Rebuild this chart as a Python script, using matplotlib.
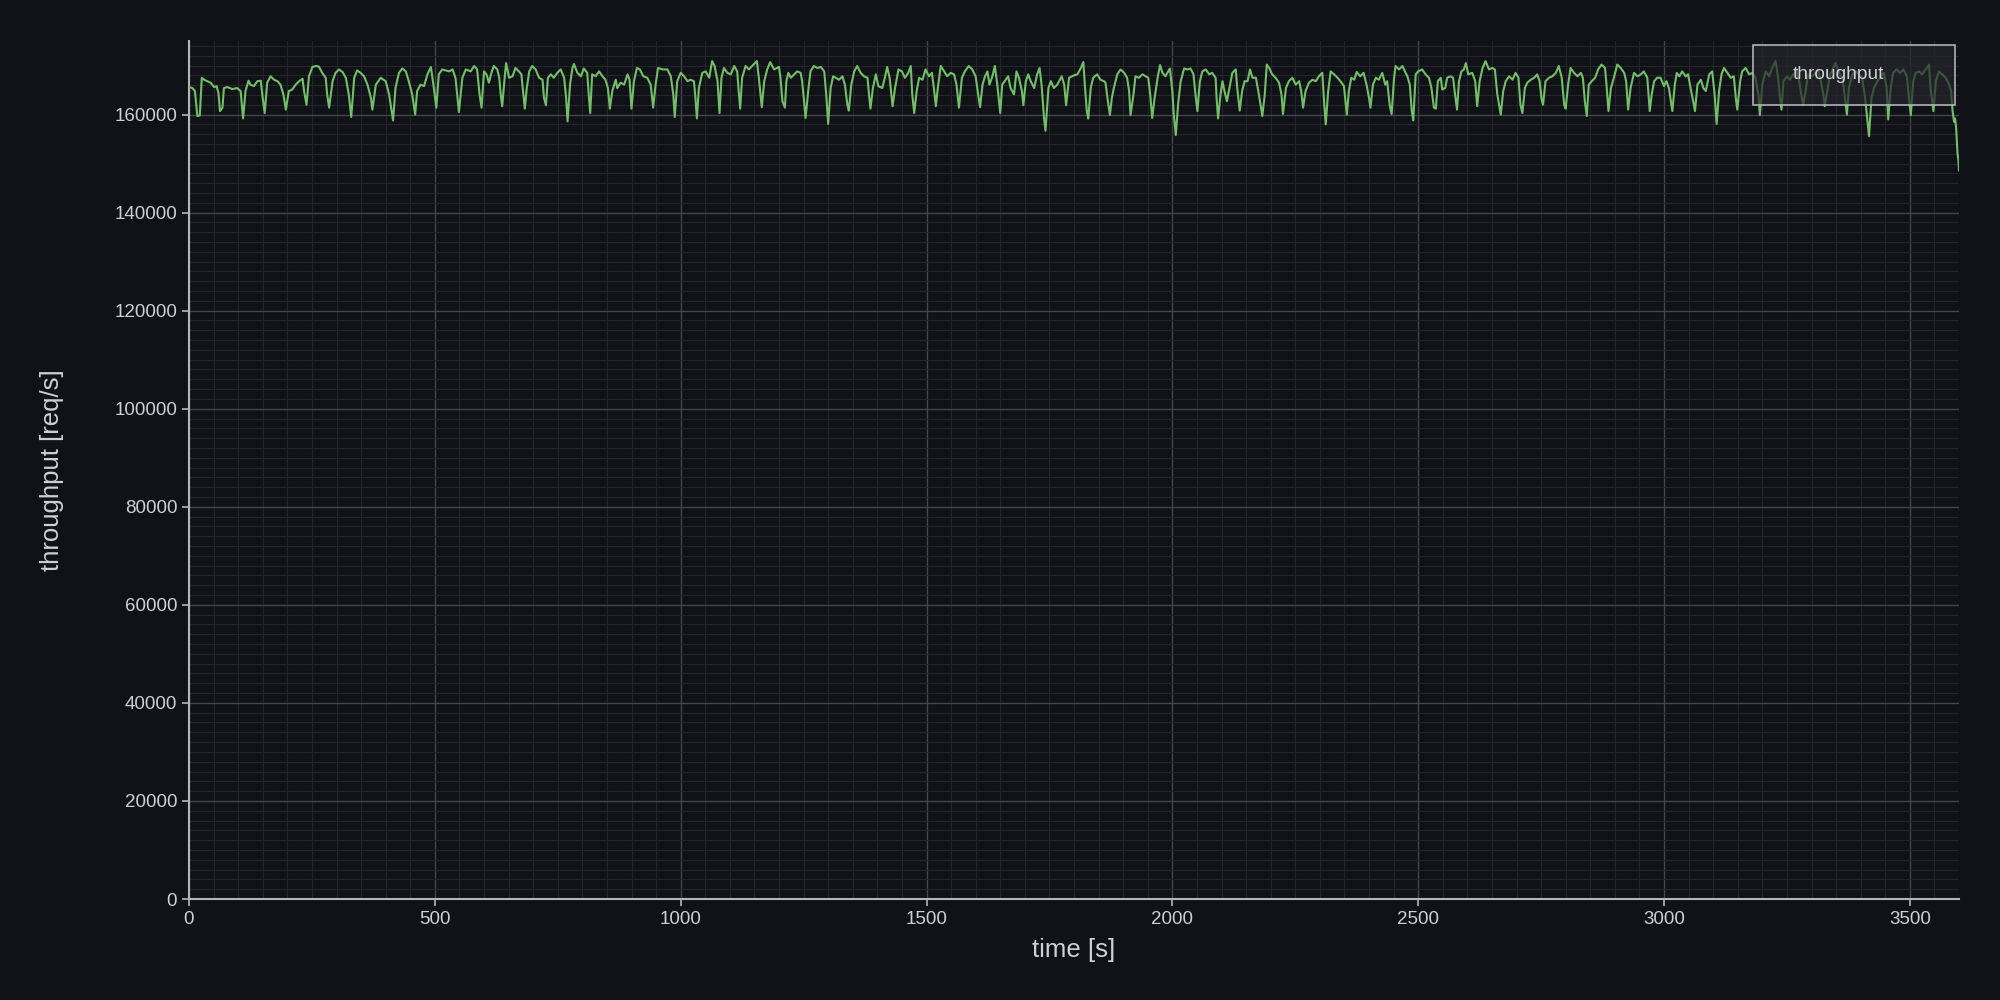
import matplotlib
matplotlib.use("Agg")
import matplotlib.pyplot as plt
from matplotlib.ticker import MultipleLocator
from matplotlib.patches import Rectangle

# ---- data (time in s, throughput in req/s) ----
time_s = [
    0, 7, 12, 17, 22, 26, 31, 37, 44, 51, 56, 60, 63, 68, 71, 78, 88, 98, 105, 110,
    115, 121, 125, 132, 139, 146, 149, 154, 159, 166, 173, 180, 186, 192, 197, 203,
    210, 217, 224, 231, 234, 239, 244, 251, 258, 264, 271, 278, 281, 285, 292, 298,
    305, 312, 319, 325, 330, 336, 342, 349, 356, 363, 370, 373, 380, 390, 400, 407,
    415, 420, 427, 434, 441, 447, 454, 460, 464, 471, 478, 485, 492, 498, 503, 508,
    515, 529, 536, 542, 546, 549, 556, 563, 573, 580, 586, 591, 595,
    600, 605, 610, 615, 620, 627, 631, 634, 637, 642, 645, 651, 658, 664, 671, 676,
    680, 683, 687, 692, 698, 705, 712, 719, 722, 726, 730, 736, 742, 749, 756, 763,
    767, 770, 775, 780, 783, 790, 797, 803, 810, 813, 816, 820, 827, 834, 841, 847,
    852, 856, 861, 868, 871, 878, 885, 892, 896, 900, 905, 911, 917, 924, 932, 939,
    944, 949, 954, 963, 973, 980, 985, 988, 993, 1000, 1007, 1014, 1020, 1027, 1030,
    1033, 1037, 1044, 1051, 1058, 1064, 1069, 1075, 1079, 1083, 1088, 1095, 1102,
    1109, 1115, 1118, 1121, 1125, 1132, 1139, 1148, 1155, 1159, 1165, 1170, 1176,
    1182, 1190,
    1200, 1203, 1207, 1212, 1215, 1219, 1224, 1231, 1237, 1244, 1247, 1251, 1254,
    1260, 1264, 1271, 1278, 1285, 1292, 1296, 1300, 1305, 1310, 1315, 1322, 1329,
    1334, 1339, 1342, 1347, 1353, 1359, 1366, 1373, 1380, 1383, 1386, 1391, 1397,
    1402, 1410, 1416, 1420, 1425, 1431, 1436, 1443, 1450, 1456, 1463, 1468, 1471,
    1475, 1480, 1485, 1492, 1498, 1505, 1511, 1515, 1519, 1523, 1529, 1536, 1542,
    1549, 1556, 1561, 1566, 1572, 1578, 1586, 1593, 1600, 1605, 1609, 1614, 1619,
    1624, 1628, 1634, 1639, 1644, 1650, 1654, 1661, 1666, 1671, 1678, 1683, 1688,
    1694, 1697, 1702, 1707, 1712, 1719, 1725, 1730, 1734, 1739, 1742, 1748, 1753,
    1759, 1766, 1775, 1780, 1784, 1790,
    1800, 1807, 1814, 1819, 1822, 1826, 1829, 1834, 1839, 1847, 1854, 1861, 1864,
    1868, 1873, 1877, 1881, 1888, 1895, 1902, 1908, 1912, 1915, 1921, 1925, 1932,
    1939, 1946, 1951, 1955, 1959, 1964, 1970, 1975, 1980, 1986, 1995, 2000, 2003,
    2007, 2012, 2017, 2024, 2031, 2037, 2043, 2047, 2051, 2056, 2061, 2068, 2075,
    2081, 2088, 2090, 2093, 2098, 2102, 2106, 2111, 2115, 2122, 2129, 2132, 2137,
    2142, 2147, 2153, 2158, 2163, 2170, 2176, 2183, 2188, 2192, 2197, 2203, 2210,
    2217, 2222, 2225, 2231, 2237, 2244, 2251, 2258, 2262, 2266, 2271, 2278, 2285,
    2292, 2298, 2305, 2309, 2312, 2317, 2322, 2329, 2336, 2342, 2349, 2355, 2359,
    2364, 2370, 2375, 2382, 2389, 2395,
    2400, 2403, 2408, 2414, 2420, 2427, 2433, 2437, 2442, 2446, 2451, 2454, 2461,
    2468, 2473, 2478, 2483, 2487, 2490, 2495, 2500, 2508, 2515, 2522, 2527, 2532,
    2536, 2540, 2546, 2549, 2555, 2559, 2566, 2571, 2575, 2579, 2583, 2588, 2593,
    2597, 2602, 2610, 2616, 2620, 2625, 2631, 2637, 2644, 2651, 2656, 2661, 2668,
    2673, 2678, 2685, 2692, 2698, 2704, 2708, 2712, 2717, 2722, 2729, 2736, 2742,
    2747, 2751, 2754, 2759, 2766, 2773, 2780, 2786, 2792, 2797, 2800, 2805, 2810,
    2817, 2824, 2831, 2835, 2839, 2843, 2847, 2853, 2860, 2866, 2873, 2880, 2883,
    2887, 2892, 2898, 2905, 2912, 2919, 2923, 2927, 2932, 2939, 2946, 2953, 2959,
    2966, 2971, 2975, 2980, 2986, 2993,
    3000, 3005, 3010, 3014, 3017, 3022, 3026, 3031, 3037, 3044, 3049, 3054, 3060,
    3063, 3068, 3075, 3080, 3085, 3092, 3098, 3103, 3107, 3112, 3117, 3122, 3129,
    3136, 3142, 3146, 3149, 3155, 3159, 3166, 3173, 3180, 3186, 3192, 3195, 3200,
    3207, 3214, 3220, 3227, 3232, 3236, 3239, 3243, 3250, 3256, 3263, 3270, 3275,
    3279, 3283, 3288, 3293, 3300, 3306, 3313, 3319, 3324, 3327, 3332, 3338, 3344,
    3349, 3356, 3363, 3367, 3372, 3376, 3383, 3390, 3397, 3403, 3409, 3414, 3417,
    3422, 3427, 3434, 3441, 3447, 3453, 3456, 3461, 3466, 3473, 3480, 3487, 3494,
    3498, 3502, 3507, 3512, 3519, 3525, 3532, 3539, 3542, 3548, 3553, 3559, 3566,
    3573, 3580, 3584, 3587, 3590, 3592, 3594, 3597, 3599, 3600,
]

throughput_rps = [
    165600, 165400, 164800, 159700, 159800, 167500, 167100, 166800, 166500, 165600,
    165800, 164400, 160700, 161400, 165400, 165600, 165200, 165400, 164800, 159200,
    164800, 166900, 166100, 165800, 166800, 166900, 164100, 160300, 166500, 167800,
    167100, 166800, 166100, 164100, 161000, 164800, 165100, 166100, 166800, 167300,
    164800, 162000, 167800, 169700, 169900, 169800, 168500, 167500, 164100, 161400,
    166800, 168500, 169200, 168700, 167500, 164100, 159500, 167500, 169000, 168500,
    167800, 166100, 163400, 161000, 166100, 167500, 166800, 164100, 158800, 165400,
    168500, 169400, 168800, 166800, 164100, 160000, 164800, 166100, 165800, 168200,
    169700, 165400, 161400, 168200, 169200, 168800, 169200, 167500, 163400, 160500,
    167500, 169200, 168800, 169900, 169200, 164100, 161400,
    168800, 168200, 166500, 168500, 169900, 169200, 167500, 164100, 161700, 167500,
    170500, 167500, 167800, 169500, 168800, 168200, 164100, 161200, 165400, 168800,
    169900, 169200, 167500, 167100, 163400, 161900, 167500, 168200, 167500, 168500,
    169200, 167500, 163400, 158600, 166100, 169500, 170300, 168500, 167800, 169400,
    168500, 164100, 160300, 168200, 167800, 168800, 167800, 167100, 165400, 161200,
    164800, 167100, 165400, 166500, 166100, 168200, 167100, 161200, 166800, 169500,
    169200, 167800, 167500, 166100, 161400, 166100, 169500, 169200, 169200, 167800,
    164100, 159500, 166800, 168500, 167800, 166800, 167100, 166800, 163400, 159200,
    165400, 168500, 168800, 167500, 170900, 169900, 166800, 160300, 167500, 169500,
    168500, 168200, 169900, 168800, 164800, 161200, 167500, 169900, 169200, 170200,
    170900, 167500, 161500, 166800, 169200, 170700, 169200,
    169700, 167500, 162700, 161400, 166800, 168500, 167500, 168200, 168800, 168500,
    166800, 162700, 159300, 165400, 168800, 169900, 169500, 169700, 168800, 164100,
    158100, 165400, 167800, 167500, 167100, 167800, 166100, 162000, 160800, 166100,
    168800, 169900, 168500, 167800, 167500, 164100, 161200, 165400, 168200, 165800,
    165400, 167800, 169700, 167500, 161700, 165400, 169200, 168800, 167500, 168500,
    169900, 164100, 160300, 164800, 167500, 167100, 169200, 167800, 168500, 165400,
    161700, 165400, 169900, 168800, 167800, 168500, 168200, 166100, 161400, 167500,
    168800, 169900, 169200, 167800, 164100, 161500, 166100, 167800, 168800, 166100,
    167800, 169900, 166100, 160300, 166100, 167100, 167800, 165400, 164100, 168800,
    167500, 164800, 161900, 166800, 168200, 166800, 165400, 168200, 169500, 166100,
    159300, 156700, 165400, 166800, 165400, 166100, 167800, 166100, 161900, 167500,
    168000, 168200, 169500, 170700, 166100, 160700, 159200, 165400, 167500, 168200,
    167100, 166800, 166500, 163400, 159900, 163400, 165400, 168200, 169200, 168500,
    167500, 164800, 159900, 164100, 167800, 167500, 168200, 167800, 167500, 164100,
    159300, 163400, 167500, 170100, 168500, 167800, 169400, 164800, 160000, 155800,
    162400, 166800, 169400, 169200, 169400, 168200, 164100, 160700, 166800, 168800,
    169200, 168200, 168500, 167500, 163400, 159200, 164100, 166800, 164800, 162700,
    164800, 168500, 169200, 165400, 160800, 164800, 166800, 166800, 169200, 167500,
    167500, 164100, 159700, 164100, 170200, 169500, 168200, 167500, 166500, 164100,
    160100, 165400, 166800, 167500, 166100, 166800, 164800, 161400, 164800, 166500,
    167100, 166800, 167800, 168500, 162000, 158000, 164800, 168800, 168200, 167500,
    166800, 165800, 160000, 164800, 167500, 167100, 168700, 167800, 168500, 166100,
    163400, 161400, 166100, 167500, 167100, 168500, 166100, 166800, 162000, 160100,
    167500, 169900, 169200, 169900, 168800, 167800, 166100, 160700, 158800, 168200,
    168800, 169200, 168200, 167500, 165400, 161400, 161200, 166800, 167500, 165100,
    165400, 167500, 167800, 167500, 164100, 161000, 166800, 168800, 169200, 170500,
    168200, 168500, 166800, 161700, 166800, 169500, 170900, 169200, 169500, 169200,
    164100, 160000, 164800, 166800, 167800, 167100, 168500, 167500, 162000, 160300,
    165400, 166500, 167100, 167500, 168200, 166800, 163100, 162000, 166800, 167500,
    167800, 168500, 169900, 167500, 162000, 161200, 166100, 169500, 168500, 167800,
    168500, 167500, 162700, 159700, 166100, 166800, 167500, 169200, 170200, 169500,
    166100, 160700, 165400, 167500, 170200, 169500, 168500, 166800, 161000, 165400,
    168500, 167800, 168200, 168800, 167500, 160700, 164100, 166800, 167500, 167500,
    165800, 166800, 165400, 162700, 160700, 166100, 168500, 167800, 168800, 167800,
    168200, 165400, 162400, 160700, 166100, 167100, 165400, 164800, 168200, 168800,
    164100, 158100, 164800, 168200, 169500, 168500, 167500, 167800, 163400, 161000,
    166800, 168800, 169500, 168200, 168500, 167500, 164100, 159900, 166100, 168800,
    167800, 169500, 170900, 167500, 163400, 161000, 166800, 167800, 167100, 168200,
    168800, 166800, 164100, 162000, 164800, 168200, 167800, 168200, 169200, 166800,
    164100, 161700, 164800, 168200, 169500, 170500, 168500, 167500, 164100, 160000,
    165400, 168200, 168800, 168200, 167500, 163400, 158600, 155600, 163400, 165400,
    166800, 167800, 168500, 165400, 159000, 165400, 168500, 169200, 168500, 169200,
    167800, 163400, 159900, 166800, 168500, 168800, 168200, 169200, 170200, 165400,
    160700, 166800, 168800, 168200, 167500, 166100, 164800, 160700, 158500, 159200,
    157500, 152000, 150500, 148600,
]

x_ticks = [0, 500, 1000, 1500, 2000, 2500, 3000, 3500]
y_ticks = [0, 20000, 40000, 60000, 80000, 100000, 120000, 140000, 160000]
series_name = "throughput"

# ---- style ----
BG = "#111217"
LINE = "#73BF69"
TXT = "#cfd0d6"
plt.rcParams["font.family"] = ["Liberation Sans", "DejaVu Sans"]

fig = plt.figure(figsize=(20, 10), dpi=100, facecolor=BG)
ax = fig.add_axes([0.0945, 0.101, 0.885, 0.858])
ax.set_facecolor(BG)

ax.plot(time_s, throughput_rps, color=LINE, lw=1.5, zorder=3)

ax.set_xlim(0, 3600)
ax.set_ylim(0, 175000)
ax.set_xticks(x_ticks)
ax.set_yticks(y_ticks)
ax.xaxis.set_minor_locator(MultipleLocator(50))
ax.yaxis.set_minor_locator(MultipleLocator(2000))

ax.grid(which="major", color="#45464c", lw=1.0, zorder=0)
ax.grid(which="minor", color="#24252b", lw=0.8, zorder=0)
ax.set_axisbelow(True)

for s in ("top", "right"):
    ax.spines[s].set_visible(False)
for s in ("left", "bottom"):
    ax.spines[s].set_color("#b5b6bb")
    ax.spines[s].set_linewidth(1.5)

ax.tick_params(which="major", colors="#b5b6bb", labelcolor=TXT, labelsize=13.5,
               length=5, width=1.2)
ax.tick_params(which="minor", length=0)

ax.set_xlabel("time [s]", color=TXT, fontsize=18.5, labelpad=7)
ax.set_ylabel("throughput [req/s]", color=TXT, fontsize=18.5, labelpad=36)

# legend box (no visible handle, as in the reference)
box = Rectangle((0.8836, 0.9254), 0.1141, 0.0699, transform=ax.transAxes,
                facecolor="#25262b", alpha=0.7, edgecolor="none", zorder=5)
ax.add_patch(box)
frame = Rectangle((0.8836, 0.9254), 0.1141, 0.0699, transform=ax.transAxes,
                  facecolor="none", edgecolor="#b0b1b6", lw=1.2, zorder=6)
ax.add_patch(frame)
ax.text(0.9062, 0.9615, series_name, transform=ax.transAxes, color=TXT,
        fontsize=13.8, va="center", ha="left", zorder=7)

fig.savefig("out.png", dpi=100, facecolor=BG)
